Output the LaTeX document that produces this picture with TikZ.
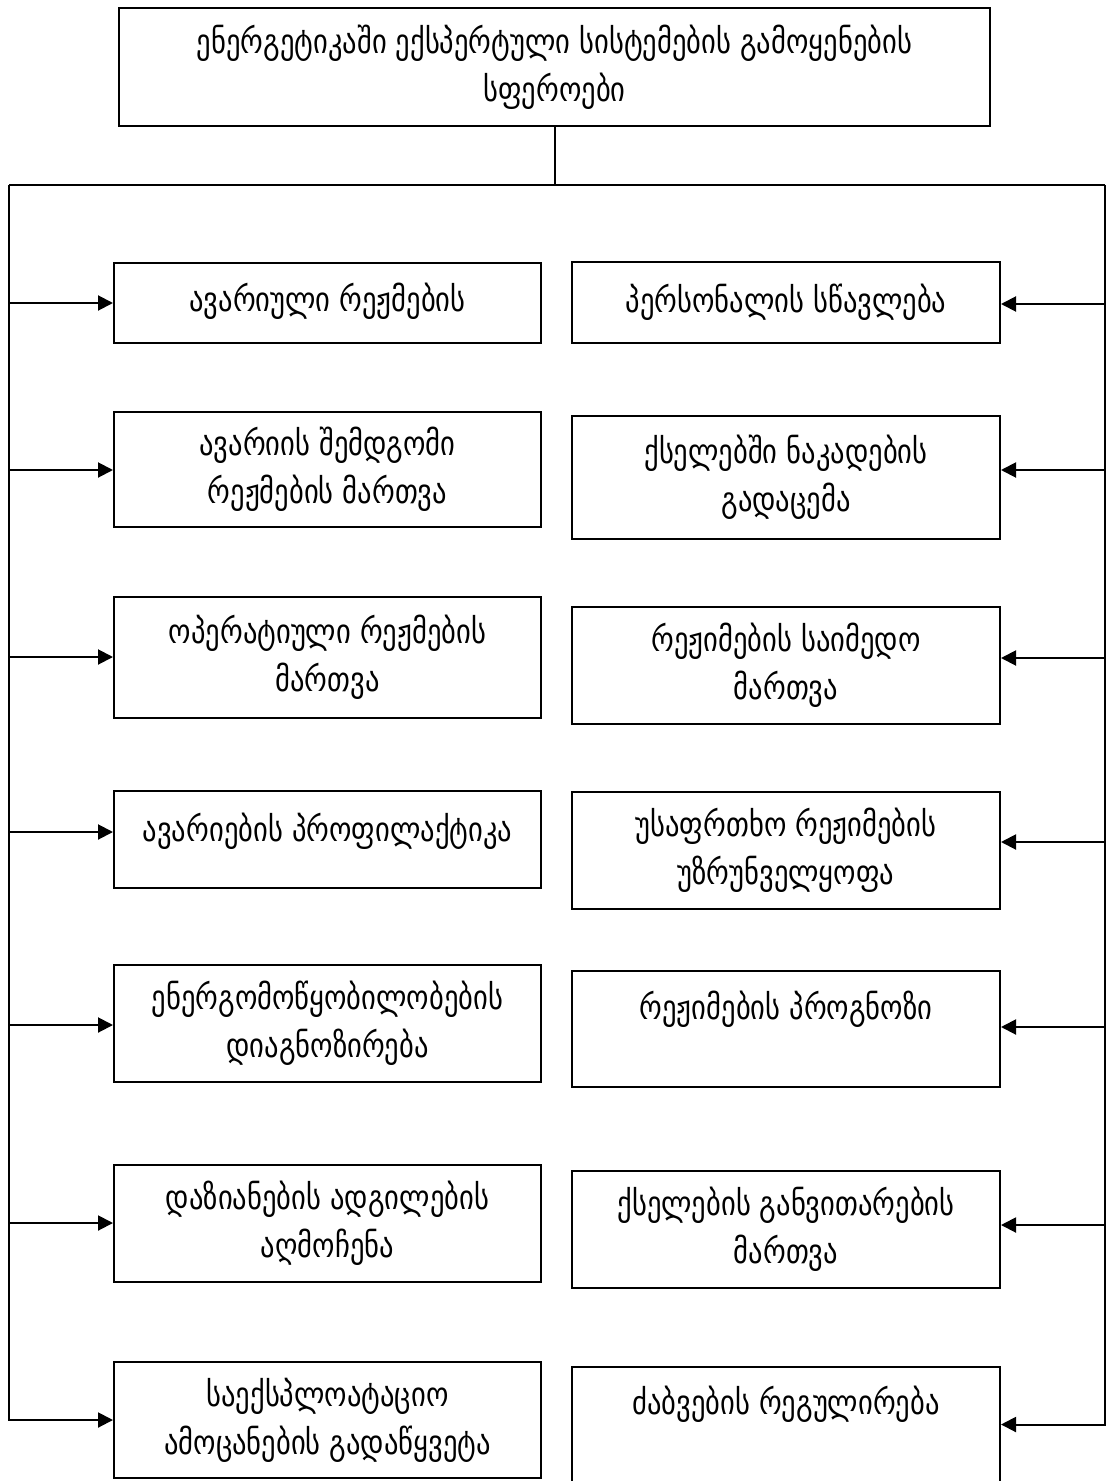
\documentclass[tikz,border=0pt]{standalone}
\usepackage{fontspec}
\newfontfamily\geofont[FakeStretch=0.84]{DejaVu Sans}
\usetikzlibrary{arrows.meta}

\begin{document}
\begin{tikzpicture}[x=0.5pt,y=-0.5pt,>={Triangle[length=7.5pt,width=7.5pt]},
  every node/.style={font=\geofont\fontsize{17}{24}\selectfont},
  box/.style={draw,line width=1pt,align=center,inner sep=2pt},
  lbox/.style={box,minimum width=213.5pt},
  rbox/.style={box,minimum width=214pt},
  arr/.style={->,line width=1pt}]
  \useasboundingbox (0,0) rectangle (1107,1481);

  % title
  \node[box,minimum width=435.5pt,minimum height=59pt] (top) at (554.5,67)
    {ენერგეტიკაში ექსპერტული სისტემების გამოყენების\\სფეროები};

  % left column
  \node[lbox,minimum height=40pt]   (l1) at (327.5,303)    {ავარიული რეჟმების\\[-18pt]\mbox{}};
  \node[lbox,minimum height=57.5pt] (l2) at (327.5,469.5)  {ავარიის შემდგომი\\რეჟმების მართვა};
  \node[lbox,minimum height=60.5pt] (l3) at (327.5,657.5)  {ოპერატიული რეჟმების\\მართვა};
  \node[lbox,minimum height=48.5pt] (l4) at (327.5,839.5)  {ავარიების პროფილაქტიკა\\[-12pt]\mbox{}};
  \node[lbox,minimum height=58.5pt] (l5) at (327.5,1023.5) {ენერგომოწყობილობების\\დიაგნოზირება};
  \node[lbox,minimum height=58.5pt] (l6) at (327.5,1223.5) {დაზიანების ადგილების\\აღმოჩენა};
  \node[lbox,minimum height=58pt]   (l7) at (327.5,1420)   {საექსპლოატაციო\\ამოცანების გადაწყვეტა};

  % right column
  \node[rbox,minimum height=40.5pt] (r1) at (786,302.5)  {პერსონალის სწავლება};
  \node[rbox,minimum height=61.5pt] (r2) at (786,477.5)  {ქსელებში ნაკადების\\გადაცემა};
  \node[rbox,minimum height=58.5pt] (r3) at (786,665.5)  {რეჟიმების საიმედო\\მართვა};
  \node[rbox,minimum height=58.5pt] (r4) at (786,850.5)  {უსაფრთხო რეჟიმების\\უზრუნველყოფა};
  \node[rbox,minimum height=58pt]   (r5) at (786,1029)   {რეჟიმების პროგნოზი\\\mbox{}};
  \node[rbox,minimum height=58.5pt] (r6) at (786,1229.5) {ქსელების განვითარების\\მართვა};
  \node[rbox,minimum height=57.5pt] (r7) at (786,1424.5) {ძაბვების რეგულირება\\\mbox{}};

  % bus
  \coordinate (tl) at (9,185);
  \coordinate (tr) at (1105,185);
  \draw[line width=1pt] (top.south) -- (top.south |- tl);
  \draw[line width=1pt] (tl) -- (tr);
  \draw[arr] (tl) |- (l7.west);
  \draw[arr] (tr) |- (r7.east);
  \foreach \n/\y in {l1/303,l2/470,l3/657,l4/832,l5/1025,l6/1223}
    \draw[arr] (tl |- 0,\y) -- (\n.west |- 0,\y);
  \foreach \n/\y in {r1/304,r2/470,r3/658,r4/842,r5/1027,r6/1225}
    \draw[arr] (tr |- 0,\y) -- (\n.east |- 0,\y);
\end{tikzpicture}
\end{document}
